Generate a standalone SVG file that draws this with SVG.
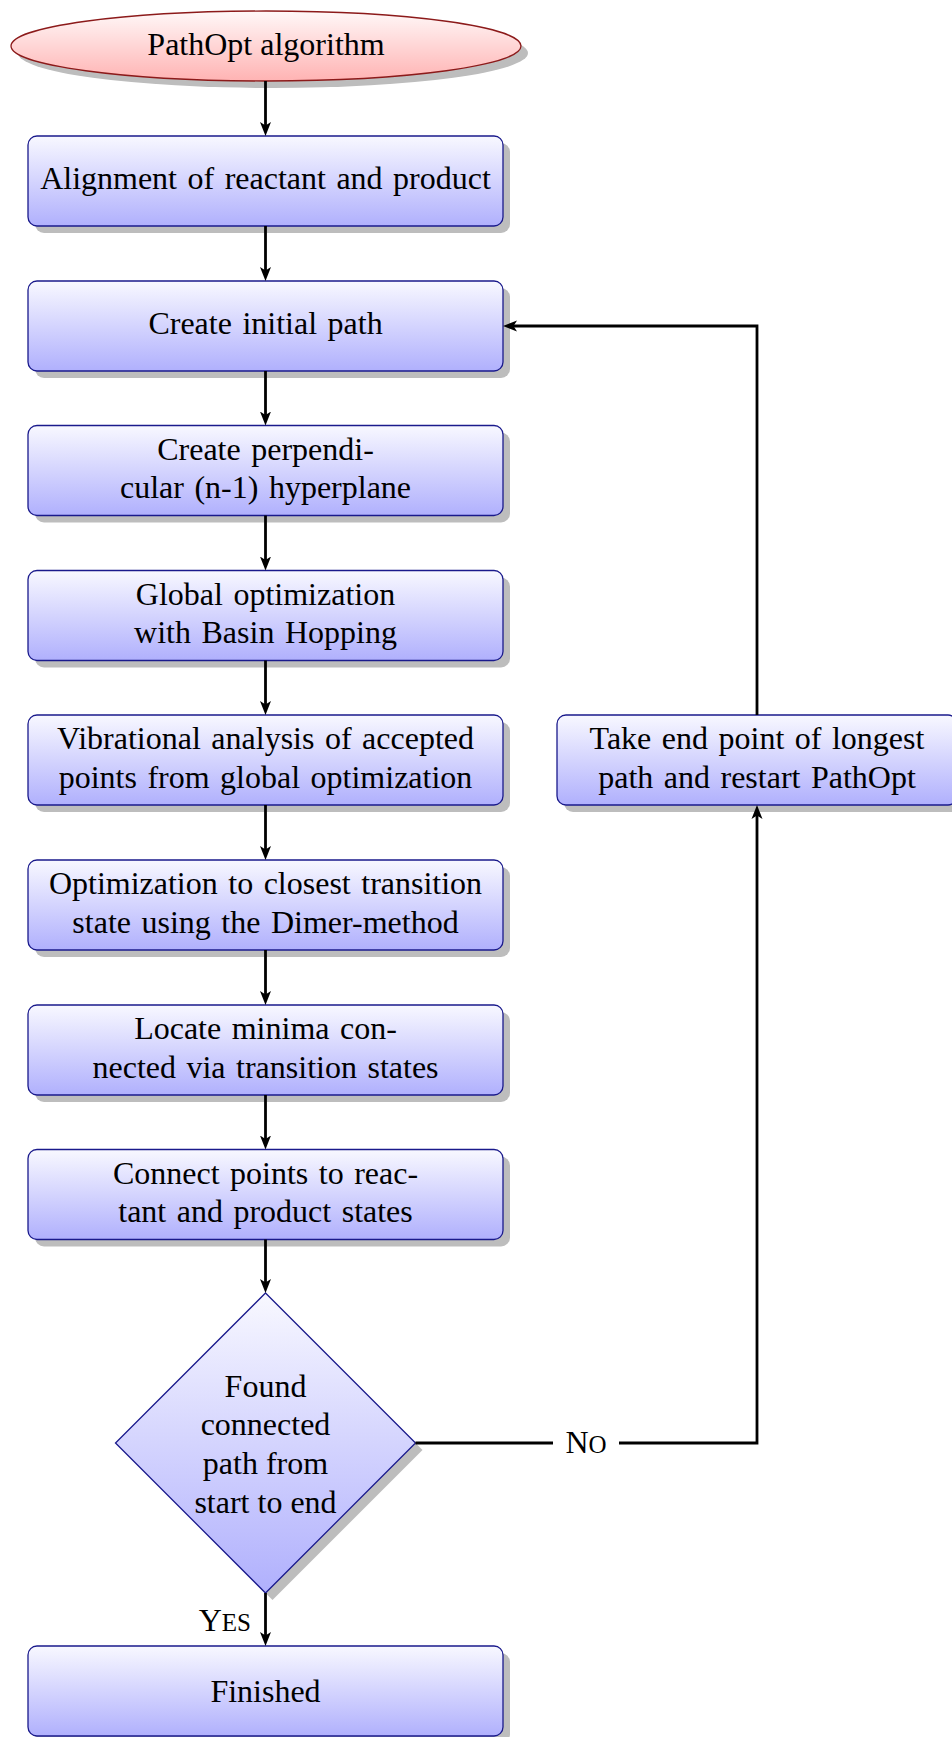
<svg xmlns="http://www.w3.org/2000/svg" width="952" height="1737" viewBox="0 0 952 1737">
  <defs>
    <linearGradient id="gradBlue" x1="0" y1="0" x2="0" y2="1">
      <stop offset="0" stop-color="#f8f8ff"/>
      <stop offset="1" stop-color="#b0b0fd"/>
    </linearGradient>
    <linearGradient id="gradRed" x1="0" y1="0" x2="0" y2="1">
      <stop offset="0" stop-color="#fff8f8"/>
      <stop offset="1" stop-color="#ffb3b3"/>
    </linearGradient>
    <marker id="arrow" markerUnits="userSpaceOnUse" markerWidth="16" markerHeight="14" refX="7" refY="7" orient="auto">
      <path d="M0,1.5 L14,7 L0,12.5 L3.5,7 Z" fill="#000"/>
    </marker>
    <style>
      .shadow { fill: #bdbdbd; }
      .box { fill: url(#gradBlue); stroke: #1a1a8c; stroke-width: 1.3; }
      .start { fill: url(#gradRed); stroke: #8c1a1a; stroke-width: 1.3; }
      .label { font-family: "Liberation Serif", "Times New Roman", serif; font-size: 32px; fill: #000; text-anchor: middle; }
      .box-text { word-spacing: 2.5px; }
      .edge { fill: none; stroke: #000; stroke-width: 2.8; }
      .arrow { marker-end: url(#arrow); }
    </style>
  </defs>

  <!-- start terminal -->
  <g id="start">
    <ellipse class="shadow" cx="273" cy="53" rx="255" ry="35"/>
    <ellipse class="start" cx="266" cy="46" rx="255" ry="35"/>
    <text class="label" x="266" y="55">PathOpt algorithm</text>
  </g>

  <g id="align">
    <rect class="shadow" x="35" y="143" width="475" height="90" rx="9"/>
    <rect class="box" x="28" y="136" width="475" height="90" rx="9"/>
    <text class="label box-text" x="265.5" y="189">Alignment of reactant and product</text>
  </g>

  <g id="initpath">
    <rect class="shadow" x="35" y="288" width="475" height="90" rx="9"/>
    <rect class="box" x="28" y="281" width="475" height="90" rx="9"/>
    <text class="label box-text" x="265.5" y="334">Create initial path</text>
  </g>

  <g id="hyperplane">
    <rect class="shadow" x="35" y="432.5" width="475" height="90" rx="9"/>
    <rect class="box" x="28" y="425.5" width="475" height="90" rx="9"/>
    <text class="label box-text" x="265.5" y="459.5">Create perpendi-</text>
    <text class="label box-text" x="265.5" y="498">cular (n-1) hyperplane</text>
  </g>

  <g id="globalopt">
    <rect class="shadow" x="35" y="577.5" width="475" height="90" rx="9"/>
    <rect class="box" x="28" y="570.5" width="475" height="90" rx="9"/>
    <text class="label box-text" x="265.5" y="604.5">Global optimization</text>
    <text class="label box-text" x="265.5" y="643">with Basin Hopping</text>
  </g>

  <g id="vibrational">
    <rect class="shadow" x="35" y="722" width="475" height="90" rx="9"/>
    <rect class="box" x="28" y="715" width="475" height="90" rx="9"/>
    <text class="label box-text" x="265.5" y="749">Vibrational analysis of accepted</text>
    <text class="label box-text" x="265.5" y="787.5">points from global optimization</text>
  </g>

  <g id="dimer">
    <rect class="shadow" x="35" y="867" width="475" height="90" rx="9"/>
    <rect class="box" x="28" y="860" width="475" height="90" rx="9"/>
    <text class="label box-text" x="265.5" y="894">Optimization to closest transition</text>
    <text class="label box-text" x="265.5" y="932.5">state using the Dimer-method</text>
  </g>

  <g id="minima">
    <rect class="shadow" x="35" y="1012" width="475" height="90" rx="9"/>
    <rect class="box" x="28" y="1005" width="475" height="90" rx="9"/>
    <text class="label box-text" x="265.5" y="1039">Locate minima con-</text>
    <text class="label box-text" x="265.5" y="1077.5">nected via transition states</text>
  </g>

  <g id="connect">
    <rect class="shadow" x="35" y="1156.5" width="475" height="90" rx="9"/>
    <rect class="box" x="28" y="1149.5" width="475" height="90" rx="9"/>
    <text class="label box-text" x="265.5" y="1183.5">Connect points to reac-</text>
    <text class="label box-text" x="265.5" y="1222">tant and product states</text>
  </g>

  <g id="restart">
    <rect class="shadow" x="564" y="722" width="400" height="90" rx="9"/>
    <rect class="box" x="557" y="715" width="400" height="90" rx="9"/>
    <text class="label box-text" x="757" y="749">Take end point of longest</text>
    <text class="label box-text" x="757" y="787.5">path and restart PathOpt</text>
  </g>

  <!-- decision -->
  <g id="decision">
    <polygon class="shadow" points="272.5,1300 422.5,1450 272.5,1600 122.5,1450"/>
    <polygon class="box" points="265.5,1293 415.5,1443 265.5,1593 115.5,1443"/>
    <text class="label" x="265.5" y="1396.5">Found</text>
    <text class="label" x="265.5" y="1435">connected</text>
    <text class="label" x="265.5" y="1474">path from</text>
    <text class="label" x="265.5" y="1513">start to end</text>
  </g>

  <g id="finished">
    <rect class="shadow" x="35" y="1653" width="475" height="90" rx="9"/>
    <rect class="box" x="28" y="1646" width="475" height="90" rx="9"/>
    <text class="label" x="265.5" y="1702">Finished</text>
  </g>

  <!-- connectors (paths stop 7px short; the marker tip reaches the target) -->
  <g id="connectors">
    <path class="edge arrow" d="M265.5,81 V129"/>
    <path class="edge arrow" d="M265.5,226 V274"/>
    <path class="edge arrow" d="M265.5,371 V418.5"/>
    <path class="edge arrow" d="M265.5,515.5 V563.5"/>
    <path class="edge arrow" d="M265.5,660.5 V708"/>
    <path class="edge arrow" d="M265.5,805 V853"/>
    <path class="edge arrow" d="M265.5,950 V998"/>
    <path class="edge arrow" d="M265.5,1095 V1142.5"/>
    <path class="edge arrow" d="M265.5,1239.5 V1286"/>
    <path class="edge arrow" d="M265.5,1593 V1639"/>
    <text class="label" x="251" y="1631" style="text-anchor: end">Y<tspan font-size="25">ES</tspan></text>
    <path class="edge arrow" d="M415.5,1443 H757 V812"/>
    <rect x="553" y="1428" width="66" height="30" fill="#fff"/>
    <text class="label" x="586" y="1453">N<tspan font-size="25">O</tspan></text>
    <path class="edge arrow" d="M757,715 V326 H510"/>
  </g>
</svg>
